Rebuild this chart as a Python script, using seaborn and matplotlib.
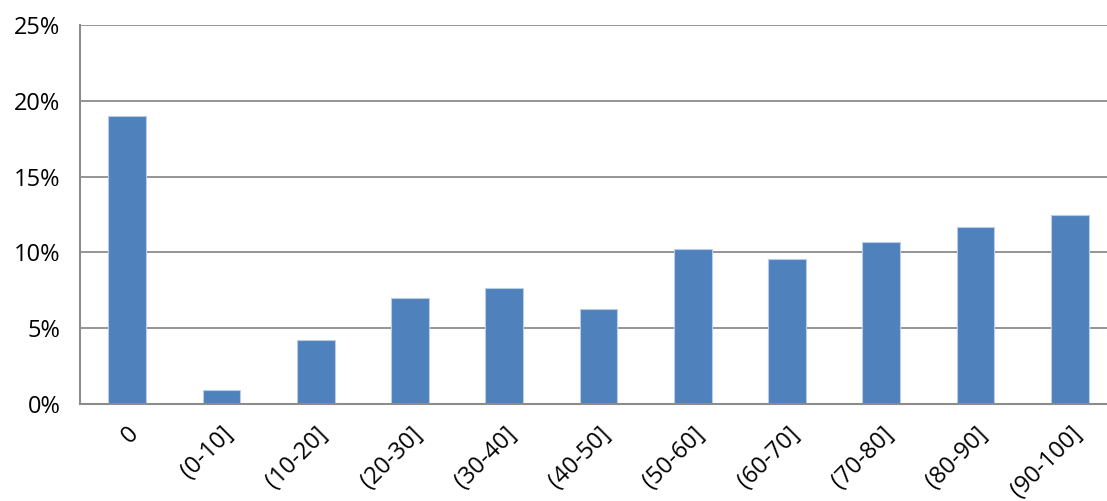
import numpy as np
import pandas as pd
import seaborn as sns
import matplotlib.pyplot as plt
from matplotlib.ticker import PercentFormatter, FixedLocator

# Dados
categories = ['0', '(0-10]', '(10-20]', '(20-30]', '(30-40]', '(40-50]',
              '(50-60]', '(60-70]', '(70-80]', '(80-90]', '(90-100]']
percent = [19.0, 0.95, 4.25, 6.97, 7.63, 6.25, 10.22, 9.56, 10.68, 11.65, 12.5]
y_ticks = [0, 5, 10, 15, 20, 25]


def main():
    df = pd.DataFrame({'faixa': categories, 'pct': percent})

    sns.set_style('white')
    plt.rcParams['font.family'] = ['Open Sans', 'DejaVu Sans']

    fig = plt.figure(figsize=(11.07, 5.01), dpi=100)
    ax = fig.add_axes([80 / 1107, 97 / 501, 1037 / 1107, 379 / 501])

    sns.barplot(data=df, x='faixa', y='pct', color='#4F81BD', width=0.4,
                edgecolor='#B9CDE5', linewidth=0.8, saturation=1, ax=ax)

    grid_col = '#8C8C8C'
    ax.set_ylim(0, 25)
    ax.set_yticks(y_ticks)
    ax.yaxis.set_major_formatter(PercentFormatter(decimals=0))
    ax.grid(axis='y', color=grid_col, linewidth=1.3)
    ax.set_axisbelow(True)
    ax.set_xlim(-0.5, len(categories) - 0.5)

    for side in ['top', 'right']:
        ax.spines[side].set_visible(False)
    for side in ['left', 'bottom']:
        ax.spines[side].set_color(grid_col)
        ax.spines[side].set_linewidth(1.5)

    ax.set_xlabel('')
    ax.set_ylabel('')

    # marcas entre as categorias
    ax.xaxis.set_minor_locator(FixedLocator(np.arange(-0.5, len(categories), 1)))
    ax.tick_params(axis='x', which='minor', length=7, width=1.3, color=grid_col, direction='out')
    ax.tick_params(axis='x', which='major', length=0, pad=13)
    ax.tick_params(axis='y', length=6, width=1.3, color=grid_col, pad=8, direction='out')
    ax.tick_params(axis='both', labelsize=17, labelcolor='#000000')

    plt.setp(ax.get_xticklabels(), rotation=45, ha='right', rotation_mode='anchor')

    fig.savefig('out.png', dpi=100)


if __name__ == "__main__":
    main()
